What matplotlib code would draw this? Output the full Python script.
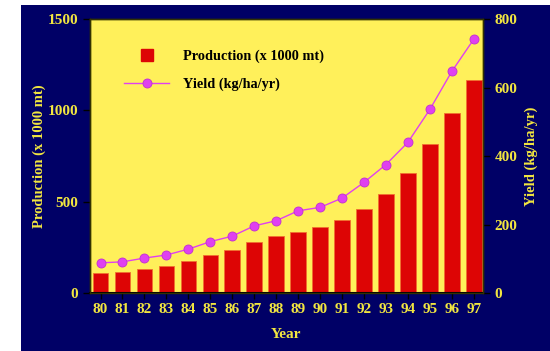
import matplotlib.pyplot as plt
from matplotlib.patches import Rectangle
from matplotlib.lines import Line2D
import numpy as np

years = ['80', '81', '82', '83', '84', '85', '86', '87', '88',
         '89', '90', '91', '92', '93', '94', '95', '96', '97']
production = [108, 115, 133, 149, 173, 206, 237, 277, 310,
              334, 361, 400, 460, 542, 659, 816, 987, 1164]
yield_kg = [88, 91, 102, 111, 128, 150, 166, 196, 211,
            240, 250, 277, 323, 375, 440, 536, 647, 741]

navy = '#000066'
yellow_bg = '#FFF05A'
label_yellow = '#F2E640'
bar_red = '#DD0505'
magenta = '#E040F0'

plt.rcParams['font.family'] = ['Liberation Serif', 'DejaVu Serif']
plt.rcParams['font.weight'] = 'bold'

fig = plt.figure(figsize=(5.5, 3.51), dpi=100)
fig.patch.set_facecolor('white')
# navy backdrop, leaving a white strip at left and top
fig.patches.append(Rectangle((21 / 550, 0), 1 - 21 / 550, 346 / 351,
                             transform=fig.transFigure, facecolor=navy,
                             edgecolor='none', zorder=-10))

ax1 = fig.add_axes([90 / 550, 58 / 351, 393 / 550, 274 / 351])
ax1.set_facecolor(yellow_bg)
x = np.arange(len(years))
ax1.bar(x, production, width=0.71, color=bar_red, edgecolor='#F07030',
        linewidth=0.6, zorder=2)
ax1.set_xlim(-0.48, 17.42)
ax1.set_ylim(0, 1500)
ax1.set_yticks([0, 500, 1000, 1500])
ax1.set_xticks(x)
ax1.set_xticklabels(years)

ax2 = ax1.twinx()
ax2.plot(x, yield_kg, color=magenta, linewidth=1.0, marker='o', markersize=6.5,
         markerfacecolor=magenta, markeredgecolor='#C030D0', markeredgewidth=0.6,
         zorder=3)
ax2.set_ylim(0, 800)
ax2.set_yticks([0, 200, 400, 600, 800])

for ax in (ax1, ax2):
    ax.tick_params(colors='black', labelcolor=label_yellow, labelsize=11,
                   direction='out', length=5, width=1)
    for s in ax.spines.values():
        s.set_color('#333300')
        s.set_linewidth(1)
ax1.spines['bottom'].set_color('black')
ax1.spines['bottom'].set_linewidth(1.5)
ax1.tick_params(axis='x', length=4, pad=3)

ax1.set_ylabel('Production (x 1000 mt)', color=label_yellow, fontsize=10.5,
               fontweight='bold', labelpad=1)
ax2.set_ylabel('Yield (kg/ha/yr)', color=label_yellow, fontsize=10.5,
               fontweight='bold', labelpad=5)
ax1.set_xlabel('Year', color=label_yellow, fontsize=11, fontweight='bold',
               labelpad=9)

handles = [
    Line2D([], [], marker='s', linestyle='none', color=bar_red, markersize=9),
    Line2D([], [], color=magenta, linewidth=1.0, marker='o', markersize=6.5,
           markeredgecolor='#C030D0', markeredgewidth=0.6),
]
labels = ['Production (x 1000 mt)', 'Yield (kg/ha/yr)']
leg = ax2.legend(handles, labels, loc='upper left',
                 bbox_to_anchor=(0.055, 0.935), frameon=False,
                 prop={'family': 'Liberation Serif', 'weight': 'bold', 'size': 10.3},
                 handlelength=3.1, labelspacing=1.0, handletextpad=1.0)
for t in leg.get_texts():
    t.set_color('black')
ax1.set_zorder(1)
ax2.set_zorder(2)
ax2.patch.set_visible(False)

fig.savefig('out.png', dpi=100, facecolor=fig.get_facecolor())
